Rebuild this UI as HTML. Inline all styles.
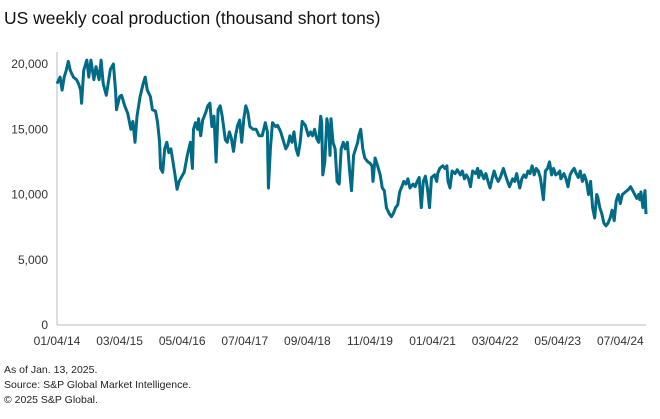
<!DOCTYPE html>
<html><head><meta charset="utf-8"><style>
body{margin:0;background:#fff;font-family:"Liberation Sans",sans-serif;}
#wrap{position:relative;width:660px;height:419px;overflow:hidden;}
.t{position:absolute;left:4px;top:8px;font-size:17.5px;color:#111;}
.f{position:absolute;left:4px;font-size:10.5px;color:#222;}
</style></head><body>
<div id="wrap">
<div class="t">US weekly coal production (thousand short tons)</div>
<svg id="chart" width="660" height="419" style="position:absolute;left:0;top:0"></svg>
<div class="f" style="top:364px">As of Jan. 13, 2025.</div>
<div class="f" style="top:379px">Source: S&amp;P Global Market Intelligence.</div>
<div class="f" style="top:394px">© 2025 S&amp;P Global.</div>
</div>
<script>
const weeks=[0,3,5,7,9,11,13,16,19,21,23,24,26,29,31,33,36,38,41,43,45,48,52,55,57,58,61,63,66,69,72,74,76,78,81,84,86,88,91,93,96,98,100,101,103,105,107,109,111,113,115,117,119,121,124,127,130,132,133,135,137,138,140,142,145,147,149,151,153,155,157,159,161,164,166,168,170,172,174,176,178,180,182,184,186,188,191,194,197,200,203,205,206,208,210,213,215,218,221,223,225,227,229,231,233,235,237,239,242,245,247,249,251,253,255,257,258,259,261,263,265,266,267,269,271,273,275,277,279,281,283,285,287,289,291,293,294,296,298,300,303,305,307,308,310,312,315,317,319,321,324,326,328,330,332,334,336,338,340,342,344,347,349,351,353,354,355,357,359,361,363,365,368,370,371,373,376,378,380,381,383,385,388,390,393,395,397,399,401,403,405,408,410,411,413,416,418,420,422,424,426,428,430,432,435,437,439,441,444,446,448,449,451,453,455,457,459,461,463,465,467,469,471,472,474,476,478,480,482,484,486,488,490,491,494,496,498,500,502,504,506,508,510,512,514,516,518,520,522,524,526,527,529,531,533,535,537,539,541,543,545,547,549,551,554,557,559,561,563,565,567,568,569,571,573,574];
const production=[18500,19000,18000,19000,19500,20200,19500,19000,18800,18500,18000,17000,19500,20300,19000,20300,18800,19800,18800,20300,18500,17600,19600,20000,18000,16500,17500,17600,16800,16200,15000,15600,14000,16000,17500,18500,19000,18000,17500,16500,16400,15500,14000,12000,11700,13500,14000,13200,13500,12500,11500,10400,11000,11300,11700,13000,14000,12000,15000,15500,15000,15800,14500,15700,16300,16800,17000,15200,16000,12500,16500,16800,16000,14200,14000,14800,14300,13300,14500,15300,15700,14000,15800,16800,16300,15200,15000,15000,14500,14500,15500,14800,10500,13500,15500,15200,15300,14800,14000,13500,13800,14500,14000,14800,13500,13000,14000,15600,15300,14500,14800,14500,15000,14300,14000,16000,15500,11500,12500,15800,14800,13000,15800,14000,13500,11000,10800,13500,14000,13500,14000,12000,10300,13000,13500,14000,14500,15000,13500,12800,12500,12400,12200,11000,12800,12300,11500,10500,10300,9000,8500,8300,8600,9000,9200,10200,10600,11000,10800,11200,10500,10800,10600,11000,11300,10000,9000,11000,11400,10500,9000,11300,11500,11000,11600,12000,12200,12000,12200,11000,10500,11800,11600,11900,11500,11800,11200,11500,11200,10600,11800,11600,12000,11300,11800,11200,11600,11000,10500,11200,11800,11300,11000,11300,12000,11500,11000,10600,11200,11000,11600,11200,10500,11200,11500,11300,11800,11600,12200,11500,12000,11800,11300,10800,9600,11800,12000,12500,11500,12000,11500,11600,11800,11200,11600,11200,10600,11500,11800,12000,11600,11300,11800,11000,11500,11000,10000,11000,9000,8200,10000,9800,9000,8500,7800,7600,7800,8200,8800,8000,9500,10000,9300,10000,10200,10400,10600,10300,10000,9700,10000,9600,10200,9000,10300,8500,9800];
const yTicks=[0,5000,10000,15000,20000];
const yTickLabels=["0","5,000","10,000","15,000","20,000"];
const xTickWeeks=[0,61,122,183,244,305,366,427,488,549];
const xTickLabels=["01/04/14","03/04/15","05/04/16","07/04/17","09/04/18","11/04/19","01/04/21","03/04/22","05/04/23","07/04/24"];
const NS="http://www.w3.org/2000/svg",svg=document.getElementById('chart');
const X0=57,X1=646,Y0=325,Y1=64;
const xs=w=>X0+(w/574)*(X1-X0);
const ys=v=>Y0-(v/20000)*(Y0-Y1);
function mk(t,a){const e=document.createElementNS(NS,t);for(const k in a)e.setAttribute(k,a[k]);svg.appendChild(e);return e;}
const ya=mk('line',{x1:X0,x2:X0,y1:52,y2:Y0,stroke:'#bbb','stroke-width':1});


const xa=mk('line',{x1:X0,x2:X1,y1:Y0,y2:Y0,stroke:'#bbb','stroke-width':1});


yTicks.forEach((v,i)=>{const t=mk('text',{x:X0-9,y:ys(v)+4,'text-anchor':'end','font-size':'12',fill:'#333','font-family':'Liberation Sans, sans-serif'});t.textContent=yTickLabels[i];

});
xTickWeeks.forEach((w,i)=>{const t=mk('text',{x:xs(w),y:Y0+20,'text-anchor':'middle','font-size':'12',fill:'#333','font-family':'Liberation Sans, sans-serif'});t.textContent=xTickLabels[i];

});
const d=weeks.map((w,i)=>(i?'L':'M')+xs(w).toFixed(1)+','+ys(production[i]).toFixed(1)).join('');
const p=mk('path',{d:d,fill:'none',stroke:'#006b86','stroke-width':3,'stroke-linejoin':'round'});


</script>
</body></html>
